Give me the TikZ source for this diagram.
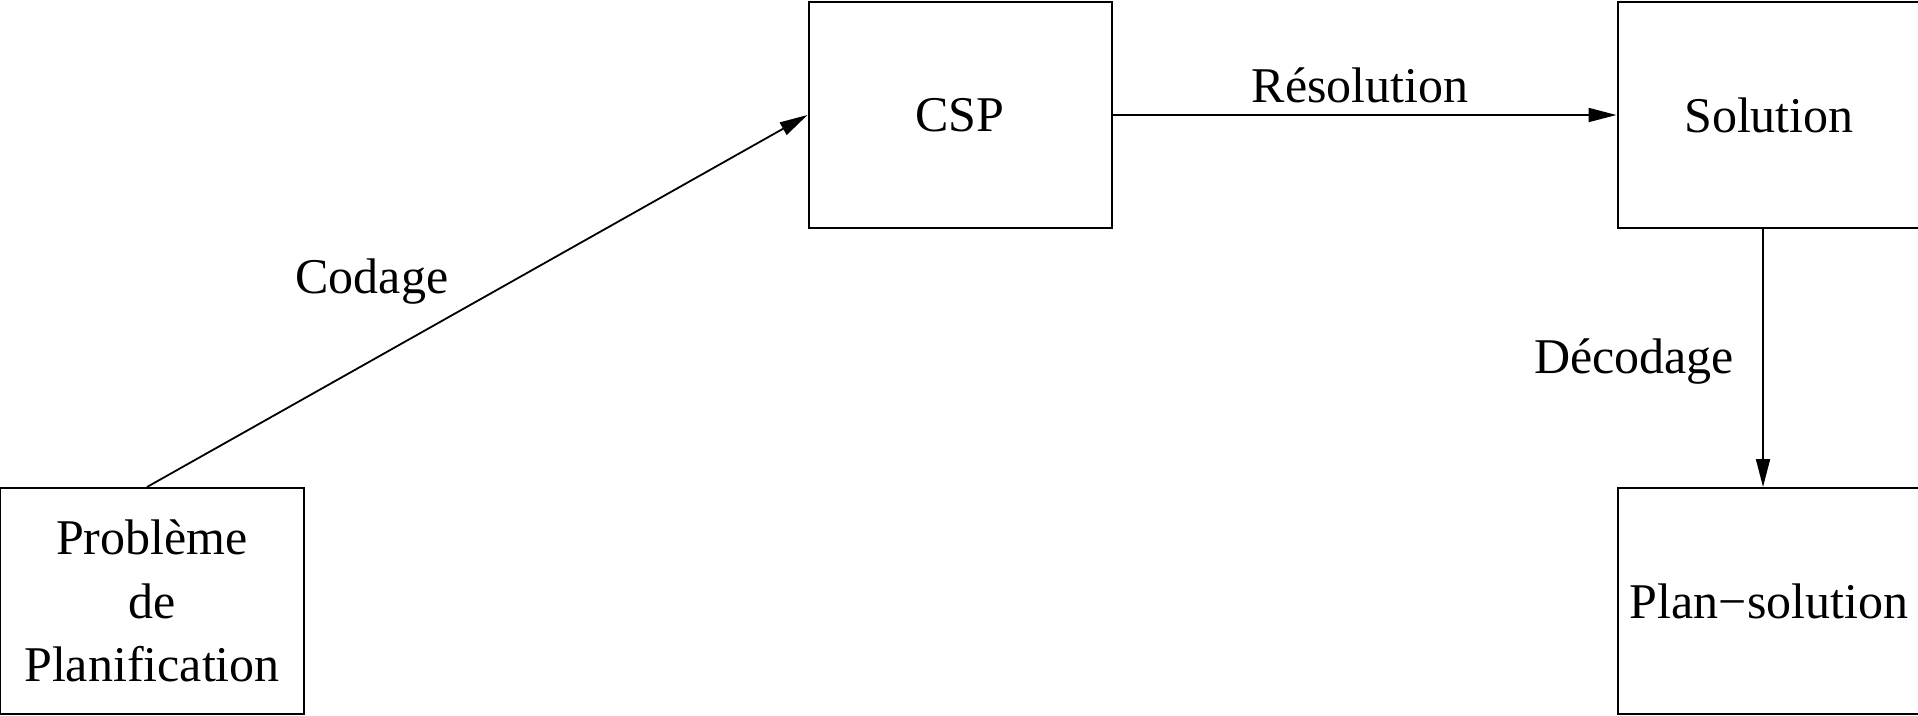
\documentclass[tikz,border=0pt]{standalone}
\usepackage{fontspec}
\setmainfont{Liberation Serif}
\usetikzlibrary{arrows.meta}
\begin{document}
\begin{tikzpicture}[x=0.5bp,y=-0.5bp,
  every node/.style={font=\fontsize{25bp}{31.75bp}\selectfont},
  box/.style={draw,line width=1bp,rectangle,inner sep=0pt,
    minimum width=151.5bp,minimum height=113bp,align=center},
  lbl/.style={anchor=base,inner sep=0pt},
  flow/.style={line width=0.9bp,-{Triangle[length=14bp,width=7bp]}}]
  \useasboundingbox (0,0) rectangle (1918,715);

  % process boxes
  \node[box] (prob) at (152,601) {Problème\\de\\Planification};
  \node[box] (csp)  at (960,115) {CSP};
  \node[box] (sol)  at (1769,115) {Solution};
  \node[box] (plan) at (1769,601) {Plan−solution};

  % connectors
  \draw[flow] ([xshift=-2.5bp]prob.north) -- (csp.west);
  \draw[flow] (csp.east) -- (sol.west);
  \draw[flow] ([xshift=-3bp]sol.south) -- ([xshift=-3bp]plan.north);

  % connector labels
  \node[lbl] (codage) at (372,293) {Codage};
  \node[lbl] (resol)  at (1360,102) {Résolution};
  \node[lbl] (decod)  at (1634,373) {Décodage};
\end{tikzpicture}
\end{document}
